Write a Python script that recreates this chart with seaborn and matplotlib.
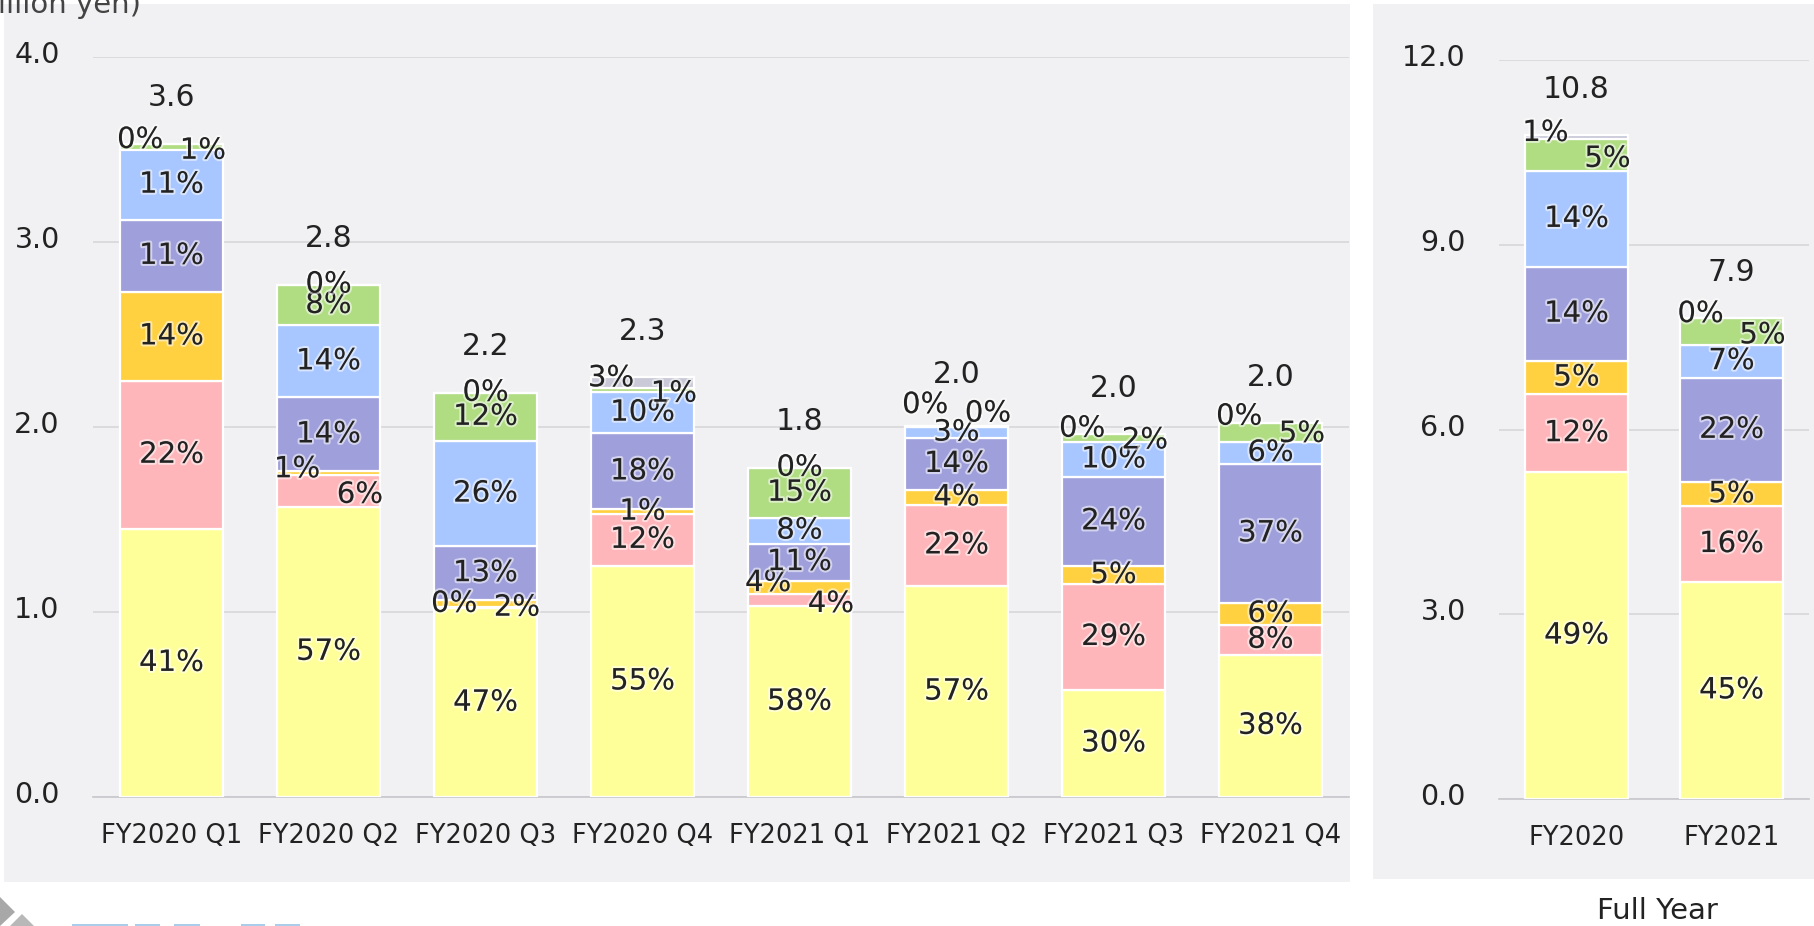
import matplotlib
matplotlib.use("Agg")
import matplotlib.pyplot as plt
import matplotlib.patheffects as pe
import matplotlib.transforms as mtransforms
from matplotlib.patches import Rectangle, Polygon
import numpy as np
import pandas as pd
import seaborn as sns

# ---------------- data ----------------
quarters = ["FY2020 Q1", "FY2020 Q2", "FY2020 Q3", "FY2020 Q4",
            "FY2021 Q1", "FY2021 Q2", "FY2021 Q3", "FY2021 Q4"]
years = ["FY2020", "FY2021"]

# segment values (billion yen), bottom -> top
yellow_q = [1.45, 1.57, 1.02, 1.25, 1.03, 1.14, 0.58, 0.77]
pink_q = [0.80, 0.17, 0.005, 0.28, 0.07, 0.44, 0.57, 0.16]
gold_q = [0.48, 0.02, 0.04, 0.025, 0.07, 0.08, 0.10, 0.12]
purple_q = [0.39, 0.40, 0.29, 0.41, 0.20, 0.28, 0.48, 0.75]
blue_q = [0.38, 0.39, 0.57, 0.225, 0.14, 0.06, 0.19, 0.12]
green_q = [0.03, 0.22, 0.26, 0.02, 0.27, 0.003, 0.04, 0.10]
grey_q = [0.0, 0.0, 0.0, 0.06, 0.0, 0.003, 0.0, 0.0]

yellow_fy = [5.31, 3.53]
pink_fy = [1.26, 1.22]
gold_fy = [0.55, 0.40]
purple_fy = [1.52, 1.69]
blue_fy = [1.56, 0.54]
green_fy = [0.52, 0.43]
grey_fy = [0.06, 0.0]

# share labels (%)
pct_yellow_q = [41, 57, 47, 55, 58, 57, 30, 38]
pct_pink_q = [22, 6, 0, 12, 4, 22, 29, 8]
pct_gold_q = [14, 1, 2, 1, 4, 4, 5, 6]
pct_purple_q = [11, 14, 13, 18, 11, 14, 24, 37]
pct_blue_q = [11, 14, 26, 10, 8, 3, 10, 6]
pct_green_q = [1, 8, 12, 1, 15, 0, 2, 5]
pct_grey_q = [0, 0, 0, 3, 0, 0, 0, 0]

pct_yellow_fy = [49, 45]
pct_pink_fy = [12, 16]
pct_gold_fy = [5, 5]
pct_purple_fy = [14, 22]
pct_blue_fy = [14, 7]
pct_green_fy = [5, 5]
pct_grey_fy = [1, 0]

totals_q = [3.6, 2.8, 2.2, 2.3, 1.8, 2.0, 2.0, 2.0]
totals_fy = [10.8, 7.9]

yticks_q = [0.0, 1.0, 2.0, 3.0, 4.0]
yticks_fy = [0.0, 3.0, 6.0, 9.0, 12.0]

colors = ["#FFFF99", "#FFB6BA", "#FFD03F", "#9F9FDC", "#A8C6FF", "#B0DC82", "#C9C9D8"]

# ---------------- style ----------------
sns.set_style("white")
plt.rcParams["font.family"] = ["DejaVu Sans"]
TXT = "#222222"

W, H = 1815, 926
fig = plt.figure(figsize=(W / 100, H / 100), dpi=100)
fig.patch.set_facecolor("white")

PANEL = "#F1F1F3"
fig.add_artist(Rectangle((4 / W, 1 - 882 / H), 1346 / W, 878 / H,
                         transform=fig.transFigure, facecolor=PANEL,
                         edgecolor="none", zorder=-10))
fig.add_artist(Rectangle((1373 / W, 1 - 879 / H), (W - 1373) / W, 875 / H,
                         transform=fig.transFigure, facecolor=PANEL,
                         edgecolor="none", zorder=-10))

ax1 = fig.add_axes([93 / W, 129 / H, (1349 - 93) / W, 740 / H])
ax2 = fig.add_axes([1499 / W, 127 / H, 310 / W, 739 / H])


def draw(ax, cats, layers, pcts, totals, ylim, yticks, minor_pos):
    ax.set_facecolor("none")
    bottom = np.zeros(len(cats))
    for vals, col in zip(layers, colors):
        df = pd.DataFrame({"cat": cats, "val": vals})
        sns.barplot(data=df, x="cat", y="val", order=cats, color=col,
                    width=0.66, bottom=bottom.copy(), errorbar=None,
                    edgecolor="white", linewidth=1.6, saturation=1, ax=ax,
                    zorder=3)
        bottom = bottom + np.array(vals)
    ax.set_xlabel("")
    ax.set_ylabel("")
    ax.set_xlim(-0.5, len(cats) - 0.5)
    ax.set_ylim(*ylim)
    ax.set_yticks(yticks)
    ax.set_yticklabels([f"{t:.1f}" for t in yticks])
    ax.yaxis.grid(True, color="#D9D9DC", linewidth=1.3)
    ax.xaxis.grid(False)
    ax.set_axisbelow(True)
    for s in ["top", "right", "left"]:
        ax.spines[s].set_visible(False)
    ax.spines["bottom"].set_color("#C8C8CC")
    ax.spines["bottom"].set_linewidth(1.2)
    ax.tick_params(axis="y", length=0, pad=24, labelsize=20.5, labelcolor=TXT)
    ax.tick_params(axis="x", which="major", length=0, pad=19, labelsize=18.5,
                   labelcolor=TXT)
    ax.set_xticks(minor_pos, minor=True)
    ax.tick_params(axis="x", which="minor", direction="in", length=6,
                   width=1.2, color="#C8C8CC")
    shift = mtransforms.ScaledTranslation(0, 5 / 100, fig.dpi_scale_trans)
    for lab in ax.get_yticklabels():
        lab.set_transform(lab.get_transform() + shift)

    # percentage labels with simple overlap handling
    halo = [pe.withStroke(linewidth=3, foreground=(1, 1, 1, 0.55))]
    thr = 19.0
    dx = 0.2
    nudge = 4.0
    inv = ax.transData.inverted()
    arr = np.array(layers)
    cum = np.cumsum(arr, axis=0)
    n = len(layers)
    for j in range(len(cats)):
        centers = cum[:, j] - arr[:, j] / 2
        pys = [ax.transData.transform((j, c))[1] for c in centers]
        pos = ["c"] * n
        for i in range(n - 1, 0, -1):
            if pos[i] == "c" and abs(pys[i] - pys[i - 1]) < thr:
                if pcts[i - 1][j] == 0 and pcts[i][j] != 0:
                    pos[i], pos[i - 1] = "r", "l"
                else:
                    pos[i], pos[i - 1] = "l", "r"
        ypix = [pys[i] + {"c": 0, "l": nudge, "r": -nudge}[pos[i]] for i in range(n)]
        for i in range(n - 1):
            lo, up = i, i + 1
            if {pos[lo], pos[up]} == {"l", "r"}:
                continue
            need = ypix[lo] + thr - ypix[up]
            if need > 0:
                ypix[up] += need
                if pos[up] != "c" and up + 1 < n:
                    ypix[up + 1] += need
        for i in range(n):
            xoff = {"c": 0, "l": -dx, "r": dx}[pos[i]]
            y = inv.transform((0, ypix[i]))[1]
            ax.text(j + xoff, y, f"{pcts[i][j]}%", ha="center", va="center",
                    fontsize=21, color=TXT, path_effects=halo, zorder=6)
        top_pix = ax.transData.transform((j, cum[-1, j]))[1]
        tot_pix = max(top_pix + 46, max(ypix) + 30)
        ax.text(j, inv.transform((0, tot_pix))[1], f"{totals[j]:.1f}",
                ha="center", va="center", fontsize=21.5, color=TXT, zorder=6)


draw(ax1, quarters,
     [yellow_q, pink_q, gold_q, purple_q, blue_q, green_q, grey_q],
     [pct_yellow_q, pct_pink_q, pct_gold_q, pct_purple_q, pct_blue_q,
      pct_green_q, pct_grey_q],
     totals_q, (0, 4.0), yticks_q, [-0.5, 1.5, 3.5, 5.5, 7.5])
draw(ax2, years,
     [yellow_fy, pink_fy, gold_fy, purple_fy, blue_fy, green_fy, grey_fy],
     [pct_yellow_fy, pct_pink_fy, pct_gold_fy, pct_purple_fy, pct_blue_fy,
      pct_green_fy, pct_grey_fy],
     totals_fy, (0, 12.0), yticks_fy, [-0.5, 1.5])

fig.text(141 / W, 1 - 13 / H, "(billion yen)", ha="right", va="baseline",
         fontsize=21, color="#444444")
fig.text(1657 / W, 1 - 919 / H, "Full Year", ha="center", va="baseline",
         fontsize=21, color=TXT)

# partial logo at bottom-left
fig.add_artist(Polygon([(0, 1 - 897 / H), (15 / W, 1 - 912 / H), (0, 1 - 926 / H)],
                       closed=True, transform=fig.transFigure,
                       facecolor="#A8A8A8", edgecolor="none"))
fig.add_artist(Polygon([(10 / W, 0), (22 / W, 1 - 914 / H), (34 / W, 0)],
                       closed=True, transform=fig.transFigure,
                       facecolor="#B8B8B8", edgecolor="none"))
for x0, x1 in [(72, 128), (135, 160), (174, 200), (241, 265), (275, 300)]:
    fig.add_artist(Rectangle((x0 / W, 0), (x1 - x0) / W, 2.5 / H,
                             transform=fig.transFigure, facecolor="#A9CDEB",
                             edgecolor="none"))

fig.savefig("out.png", dpi=100, facecolor="white")
